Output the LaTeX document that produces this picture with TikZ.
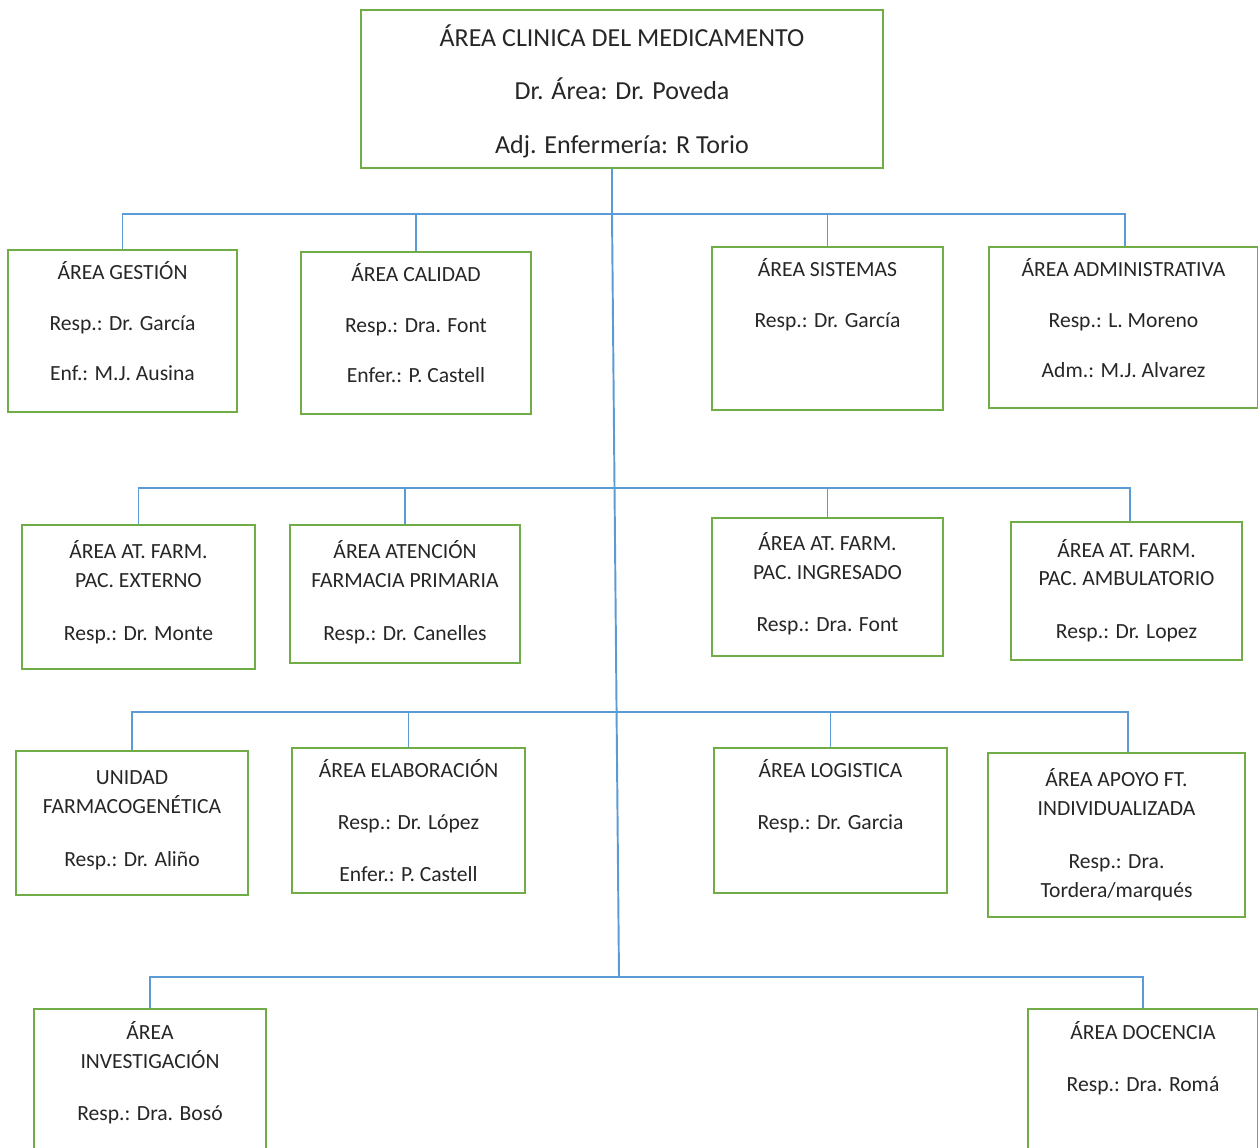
\documentclass[tikz,border=0pt]{standalone}
\usepackage{fontspec}
\setmainfont{Carlito}
\usetikzlibrary{positioning}
\definecolor{cbox}{HTML}{70AD47}
\definecolor{cline}{HTML}{5B9BD5}
\definecolor{ctext}{HTML}{262626}
\tikzset{
  areabox/.style={draw=cbox, line width=1.1pt, inner sep=0pt},
  areatxt/.style={anchor=north, inner sep=0pt, yshift=-9.4pt, align=center, text=ctext,
                  font=\fontsize{12.3}{16.4}\selectfont, execute at begin node=\strut},
  headtxt/.style={areatxt, yshift=0.8pt, font=\fontsize{14.8}{30.6}\selectfont},
  bus/.style={draw=cline, line width=1.1pt},
}
\begin{document}
\begin{tikzpicture}[x=0.02cm, y=-0.02cm]
  \useasboundingbox (0,0) rectangle (1258,1148);
  % direccion
  \node[areabox, minimum width=10.44cm, minimum height=3.16cm,
    label={[headtxt]north:{ÁREA CLINICA DEL MEDICAMENTO\\Dr. Área: Dr. Poveda\\Adj. Enfermería: R Torio}}]
    (top) at (622,89) {};
  \coordinate (b1) at (612,214);
  \coordinate (b2) at (615,488);
  \coordinate (b3) at (617,712);
  \coordinate (b4) at (619,977);
  % fila 1
  \node[areabox, minimum width=4.58cm, minimum height=3.24cm,
    label={[areatxt, yshift=2.3pt]north:{ÁREA GESTIÓN\\[12.4pt]Resp.: Dr. García\\[11.9pt]Enf.: M.J. Ausina}}]
    (gestion) at (122.5,331) {};
  \node[areabox, minimum width=4.6cm, minimum height=3.24cm,
    label={[areatxt, yshift=2.3pt]north:{ÁREA CALIDAD\\[12.4pt]Resp.: Dra. Font\\[11.9pt]Enfer.: P. Castell}}]
    (calidad) at (416,333) {};
  \node[areabox, minimum width=4.62cm, minimum height=3.26cm,
    label={[areatxt, yshift=2.3pt]north:{ÁREA SISTEMAS\\[12.4pt]Resp.: Dr. García}}]
    (sistemas) at (827.5,328.5) {};
  \node[areabox, minimum width=5.38cm, minimum height=3.22cm,
    label={[areatxt, yshift=2.3pt]north:{ÁREA ADMINISTRATIVA\\[12.4pt]Resp.: L. Moreno\\[11.9pt]Adm.: M.J. Alvarez}}]
    (admin) at (1123.5,327.5) {};
  % fila 2
  \node[areabox, minimum width=4.66cm, minimum height=2.88cm,
    label={[areatxt]north:{ÁREA AT. FARM.\\PAC. EXTERNO\\[13.5pt]Resp.: Dr. Monte}}]
    (externo) at (138.5,597) {};
  \node[areabox, minimum width=4.6cm, minimum height=2.76cm,
    label={[areatxt]north:{ÁREA ATENCIÓN\\FARMACIA PRIMARIA\\[13.5pt]Resp.: Dr. Canelles}}]
    (primaria) at (405,594) {};
  \node[areabox, minimum width=4.62cm, minimum height=2.76cm,
    label={[areatxt, yshift=1pt]north:{ÁREA AT. FARM.\\PAC. INGRESADO\\[13.5pt]Resp.: Dra. Font}}]
    (ingresado) at (827.5,587) {};
  \node[areabox, minimum width=4.62cm, minimum height=2.76cm,
    label={[areatxt, yshift=-0.6pt]north:{ÁREA AT. FARM.\\PAC. AMBULATORIO\\[13.5pt]Resp.: Dr. Lopez}}]
    (ambulat) at (1126.5,591) {};
  % fila 3
  \node[areabox, minimum width=4.64cm, minimum height=2.88cm,
    label={[areatxt, yshift=-2.3pt]north:{UNIDAD\\FARMACOGENÉTICA\\[13.5pt]Resp.: Dr. Aliño}}]
    (unidad) at (132,823) {};
  \node[areabox, minimum width=4.66cm, minimum height=2.9cm,
    label={[areatxt, yshift=2.6pt]north:{ÁREA ELABORACIÓN\\[13.5pt]Resp.: Dr. López\\[13pt]Enfer.: P. Castell}}]
    (elabora) at (408.5,820.5) {};
  \node[areabox, minimum width=4.66cm, minimum height=2.9cm,
    label={[areatxt, yshift=2.6pt]north:{ÁREA LOGISTICA\\[13.5pt]Resp.: Dr. Garcia}}]
    (logist) at (830.5,820.5) {};
  \node[areabox, minimum width=5.14cm, minimum height=3.28cm,
    label={[areatxt]north:{ÁREA APOYO FT.\\INDIVIDUALIZADA\\[13.5pt]Resp.: Dra.\\Tordera/marqués}}]
    (apoyo) at (1116.5,835) {};
  % fila 4
  \node[areabox, minimum width=4.64cm, minimum height=3.32cm,
    label={[areatxt, yshift=2.1pt]north:{ÁREA\\INVESTIGACIÓN\\[13.5pt]Resp.: Dra. Bosó}}]
    (investig) at (150,1092) {};
  \node[areabox, minimum width=4.6cm, minimum height=3.32cm,
    label={[areatxt, yshift=2.1pt]north:{ÁREA DOCENCIA\\[13.5pt]Resp.: Dra. Romá}}]
    (docencia) at (1143,1092) {};
  % conectores
  \draw[bus] (top.south -| b1) -- (b1) -- (b4);
  \draw[bus] (gestion.north) -- (gestion.north |- b1) -- ([xshift=1pt]admin.north |- b1) -- ([xshift=1pt]admin.north);
  \draw[bus] (calidad.north) -- (calidad.north |- b1);
  \draw[bus] (sistemas.north) -- (sistemas.north |- b1);
  \draw[bus] (externo.north) -- (externo.north |- b2) -- ([xshift=2pt]ambulat.north |- b2) -- ([xshift=2pt]ambulat.north);
  \draw[bus] (primaria.north) -- (primaria.north |- b2);
  \draw[bus] (ingresado.north) -- (ingresado.north |- b2);
  \draw[bus] (unidad.north) -- (unidad.north |- b3) -- ([xshift=6.5pt]apoyo.north |- b3) -- ([xshift=6.5pt]apoyo.north);
  \draw[bus] (elabora.north) -- (elabora.north |- b3);
  \draw[bus] (logist.north) -- (logist.north |- b3);
  \draw[bus] (investig.north) -- (investig.north |- b4) -- (docencia.north |- b4) -- (docencia.north);
\end{tikzpicture}
\end{document}
